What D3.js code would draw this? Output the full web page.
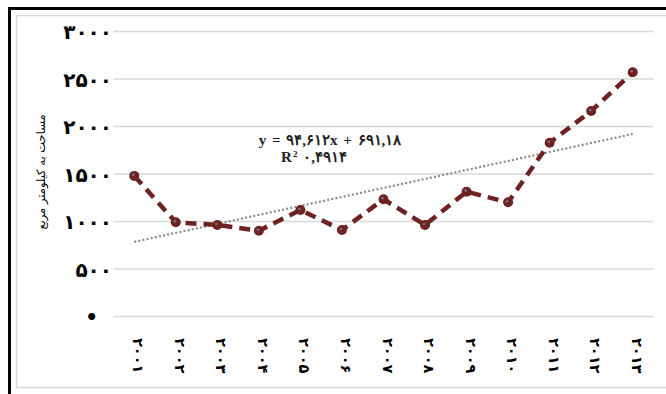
<!DOCTYPE html>
<html>
<head>
<meta charset="utf-8">
<script src="https://cdn.jsdelivr.net/npm/d3@7"></script>
<style>
  html, body { margin: 0; padding: 0; background: #fff; }
  svg { display: block; }
</style>
</head>
<body>
<svg id="chart" width="666" height="394"></svg>
<script>
// Years shown on the category axis (Persian digits)
const years = ["۲۰۰۱","۲۰۰۲","۲۰۰۳","۲۰۰۴","۲۰۰۵","۲۰۰۶","۲۰۰۷","۲۰۰۸","۲۰۰۹","۲۰۱۰","۲۰۱۱","۲۰۱۲","۲۰۱۳"];
// Area in square kilometres per year
const areaValues = [1480, 992, 963, 903, 1121, 910, 1234, 963, 1314, 1202, 1829, 2163, 2571];
// Value-axis ticks and their labels
const yTicks = [0, 500, 1000, 1500, 2000, 2500, 3000];
const yTickLabels = ["•", "۵۰۰", "۱۰۰۰", "۱۵۰۰", "۲۰۰۰", "۲۵۰۰", "۳۰۰۰"];
// Linear trend: y = slope * x + intercept, x = 1..n
const trendSlope = 94.612;
const trendIntercept = 691.18;
const equationText = "y = ۹۴,۶۱۲x + ۶۹۱,۱۸";
const rSquaredText = "۰,۴۹۱۴";
const axisTitle = "مساحت به کیلومتر مربع";

const svg = d3.select("#chart");
const lineColor = "#6e2222";

// Frames
svg.append("rect").attr("x", 9.5).attr("y", 8.5).attr("width", 720).attr("height", 420)
  .attr("fill", "none").attr("stroke", "#000").attr("stroke-width", 3);
svg.append("rect").attr("x", 16.5).attr("y", 15.5).attr("width", 720).attr("height", 372)
  .attr("fill", "#fff").attr("stroke", "#d9d9d9").attr("stroke-width", 1.5);

const x = d3.scaleBand().domain(years).range([113.5, 653.5]);
const y = d3.scaleLinear().domain([0, 3000]).range([316.5, 31.5]);

// Gridlines
svg.append("g").selectAll("line").data(yTicks).join("line")
  .attr("x1", 113.5).attr("x2", 653.5)
  .attr("y1", d => y(d)).attr("y2", d => y(d))
  .attr("stroke", "#d9d9d9").attr("stroke-width", 1.5);

// Y axis labels
const yAxis = d3.axisLeft(y).tickValues(yTicks).tickSize(0).tickPadding(0)
  .tickFormat((d, i) => yTickLabels[i]);
const yG = svg.append("g").attr("transform", "translate(112,0)").call(yAxis);
yG.select(".domain").remove();
yG.selectAll("text")
  .attr("font-family", "DejaVu Sans, sans-serif")
  .attr("font-weight", "bold")
  .attr("font-size", 20)
  .attr("fill", "#000")
  .attr("dy", "0.35em");
yG.selectAll(".tick").filter(d => d === 0).select("text").attr("x", -14);

// X axis labels, rotated
const xAxis = d3.axisBottom(x).tickSize(0).tickPadding(0);
const xG = svg.append("g").attr("transform", "translate(0,338)").call(xAxis);
xG.select(".domain").remove();
xG.selectAll("text")
  .attr("font-family", "DejaVu Sans, sans-serif")
  .attr("font-weight", "bold")
  .attr("font-size", 14.5)
  .attr("fill", "#000")
  .attr("y", 0).attr("dy", 0)
  .attr("text-anchor", "start")
  .attr("dominant-baseline", "central")
  .attr("transform", "rotate(90) translate(0,-4)");

// Y axis title
svg.append("text")
  .attr("transform", "translate(41,172) rotate(-90)")
  .attr("text-anchor", "middle")
  .attr("dominant-baseline", "central")
  .attr("font-family", "DejaVu Sans, sans-serif")
  .attr("font-size", 11.5)
  .attr("direction", "rtl")
  .text(axisTitle);

const cx = d => x(d) + x.bandwidth() / 2;

// Trend line
const trendPts = [1, years.length].map(i => [cx(years[i - 1]), y(trendSlope * i + trendIntercept)]);
svg.append("path")
  .attr("d", d3.line()(trendPts))
  .attr("fill", "none").attr("stroke", "#8a8a8a")
  .attr("stroke-width", 2.2).attr("stroke-dasharray", "2,2.2");

// Series line
const line = d3.line().x((d, i) => cx(years[i])).y(d => y(d));
svg.append("path")
  .datum(areaValues)
  .attr("d", line)
  .attr("fill", "none").attr("stroke", lineColor)
  .attr("stroke-width", 4.5).attr("stroke-dasharray", "11,7")
  .attr("stroke-linejoin", "round");

svg.append("g").selectAll("circle").data(areaValues).join("circle")
  .attr("cx", (d, i) => cx(years[i])).attr("cy", d => y(d))
  .attr("r", 5).attr("fill", lineColor);
svg.append("g").selectAll("circle").data(areaValues).join("circle")
  .attr("cx", (d, i) => cx(years[i]) - 1).attr("cy", d => y(d) - 1)
  .attr("r", 1.3).attr("fill", "#777");

// Trend equation
const eq = svg.append("text")
  .attr("x", 330).attr("y", 145)
  .attr("text-anchor", "middle")
  .attr("font-family", "Liberation Serif, serif")
  .attr("font-weight", "bold")
  .attr("font-size", 15)
  .attr("letter-spacing", 1)
  .attr("fill", "#222");
eq.text(equationText);
const r2 = svg.append("text")
  .attr("x", 314).attr("y", 162)
  .attr("text-anchor", "middle")
  .attr("font-family", "Liberation Serif, serif")
  .attr("font-weight", "bold")
  .attr("font-size", 15)
  .attr("letter-spacing", 1)
  .attr("fill", "#222");
r2.append("tspan").text("R");
r2.append("tspan").attr("font-size", 9).attr("dy", -5).text("2");
r2.append("tspan").attr("dy", 5).text(" " + rSquaredText);
</script>
</body>
</html>
